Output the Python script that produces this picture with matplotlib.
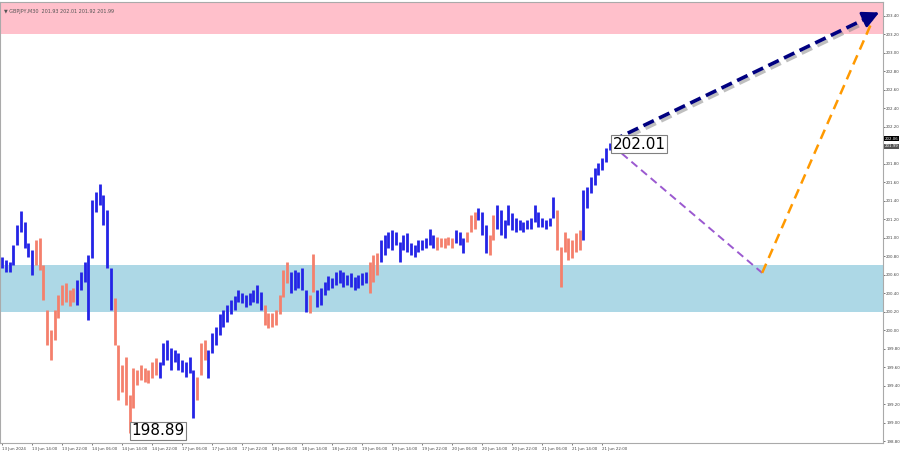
import numpy as np
import matplotlib
matplotlib.use("Agg")
import matplotlib.pyplot as plt
import matplotlib.patheffects as pe

# Barras horárias: máximas e mínimas (GBPJPY)
highs = [200.79, 200.76, 200.74, 200.92, 201.14, 201.29, 201.17, 200.94, 200.87, 200.98,
         201.00, 200.70, 200.22, 200.00, 200.22, 200.38, 200.49, 200.51, 200.44, 200.46,
         200.54, 200.63, 200.74, 200.81, 201.41, 201.49, 201.58, 201.46, 201.30, 200.67,
         200.35, 199.84, 199.62, 199.71, 199.30, 199.59, 199.57, 199.62, 199.59, 199.57,
         199.66, 199.70, 199.66, 199.86, 199.89, 199.81, 199.79, 199.75, 199.68, 199.66,
         199.71, 199.57, 199.49, 199.86, 199.89, 199.79, 199.97, 200.04, 200.17, 200.22,
         200.27, 200.33, 200.37, 200.44, 200.40, 200.38, 200.40, 200.44, 200.49, 200.41,
         200.27, 200.19, 200.19, 200.22, 200.38, 200.65, 200.74, 200.63, 200.65, 200.63,
         200.67, 200.44, 200.38, 200.82, 200.44, 200.46, 200.52, 200.59, 200.56, 200.63,
         200.65, 200.63, 200.60, 200.62, 200.58, 200.60, 200.62, 200.63, 200.74, 200.81,
         200.83, 200.98, 201.03, 201.06, 201.08, 201.06, 200.95, 201.03, 201.05, 200.94,
         200.92, 200.98, 200.98, 201.00, 201.10, 201.03, 201.01, 201.00, 201.00, 201.01,
         201.00, 201.08, 201.06, 201.00, 201.06, 201.25, 201.28, 201.32, 201.28, 201.14,
         201.03, 201.25, 201.35, 201.30, 201.19, 201.35, 201.27, 201.21, 201.19, 201.17,
         201.19, 201.21, 201.35, 201.28, 201.21, 201.19, 201.21, 201.44, 201.30, 200.90,
         201.06, 201.00, 200.98, 201.05, 201.08, 201.52, 201.55, 201.66, 201.75, 201.81,
         201.86, 201.97, 202.02]
lows = [200.67, 200.63, 200.63, 200.70, 200.92, 201.06, 200.89, 200.79, 200.60, 200.70,
        200.65, 200.33, 199.84, 199.68, 199.89, 200.13, 200.27, 200.31, 200.26, 200.31,
        200.27, 200.44, 200.52, 200.11, 200.78, 201.28, 201.35, 201.14, 200.67, 200.22,
        199.84, 199.25, 199.33, 199.19, 198.89, 199.16, 199.41, 199.46, 199.44, 199.43,
        199.48, 199.52, 199.48, 199.62, 199.68, 199.57, 199.66, 199.57, 199.55, 199.49,
        199.54, 199.05, 199.25, 199.52, 199.68, 199.48, 199.75, 199.84, 199.95, 200.04,
        200.09, 200.17, 200.22, 200.31, 200.29, 200.25, 200.27, 200.31, 200.29, 200.22,
        200.06, 200.02, 200.04, 200.06, 200.17, 200.36, 200.51, 200.40, 200.44, 200.46,
        200.44, 200.20, 200.19, 200.41, 200.25, 200.27, 200.38, 200.44, 200.46, 200.49,
        200.51, 200.47, 200.49, 200.47, 200.44, 200.46, 200.49, 200.51, 200.40, 200.52,
        200.60, 200.74, 200.81, 200.89, 200.87, 200.92, 200.74, 200.87, 200.85, 200.81,
        200.79, 200.85, 200.87, 200.89, 200.92, 200.89, 200.87, 200.90, 200.89, 200.92,
        200.89, 200.94, 200.92, 200.84, 200.95, 201.06, 201.10, 201.19, 201.03, 200.84,
        200.81, 200.98, 201.10, 201.03, 201.00, 201.14, 201.08, 201.06, 201.08, 201.06,
        201.10, 201.10, 201.17, 201.12, 201.12, 201.10, 201.13, 201.21, 200.87, 200.47,
        200.85, 200.76, 200.78, 200.85, 200.87, 200.98, 201.32, 201.48, 201.57, 201.68,
        201.73, 201.82, 201.95]

# Cores por sequência (quantidade de barras, direção da onda)
color_runs = [(9, "up"), (11, "down"), (10, "up"), (12, "down"), (10, "up"), (3, "down"),
              (15, "up"), (7, "down"), (5, "up"), (2, "down"), (14, "up"), (3, "down"),
              (15, "up"), (5, "down"), (3, "up"), (3, "down"), (3, "up"), (2, "down"),
              (16, "up"), (7, "down"), (8, "up")]

x_labels = ["13 Jun 2024", "13 Jun 14:00", "13 Jun 22:00", "14 Jun 06:00", "14 Jun 14:00",
            "14 Jun 22:00", "17 Jun 06:00", "17 Jun 14:00", "17 Jun 22:00", "18 Jun 06:00",
            "18 Jun 14:00", "18 Jun 22:00", "19 Jun 06:00", "19 Jun 14:00", "19 Jun 22:00",
            "20 Jun 06:00", "20 Jun 14:00", "20 Jun 22:00", "21 Jun 06:00", "21 Jun 14:00",
            "21 Jun 22:00"]

# Zonas e projeção das ondas
resistance_zone = (203.20, 203.60)
support_zone = (200.20, 200.70)
forecast_main = [(162.7, 202.05), (234.6, 203.45)]
forecast_alt = [(162.7, 202.00), (202.7, 200.62), (231.6, 203.30)]
last_price = 202.01
min_price = 198.89

up_color = "#2424e6"
down_color = "#f4806c"

colors = []
for n, d in color_runs:
    colors += [up_color if d == "up" else down_color] * n

fig = plt.figure(figsize=(9, 4.55), dpi=100)
ax = fig.add_axes([0.0, 0.0264, 0.981, 0.9692])

ax.set_xlim(-0.55, 234.9)
ax.set_ylim(198.78, 203.55)

# Zonas
ax.axhspan(*resistance_zone, color="#ffc0cb", lw=0, zorder=0)
ax.axhspan(*support_zone, color="#add8e6", lw=0, zorder=0)

# Barras de preço
idx = np.arange(len(highs))
ax.vlines(idx, lows, highs, colors=colors, lw=2.0, zorder=2)

# Projeção principal (seta azul escura com sombra)
mx, my = zip(*forecast_main)
ax.plot(mx[:1] + (mx[1] - 3,), my[:1] + (my[1] - 0.055,), color="#000080", lw=2.6,
        ls=(0, (3.2, 1.6)), zorder=4,
        path_effects=[pe.SimpleLineShadow(offset=(1.5, -2), shadow_color="gray", alpha=0.5),
                      pe.Normal()])
ax.annotate("", xy=forecast_main[1], xytext=(mx[1] - 4, my[1] - 0.075),
            arrowprops=dict(arrowstyle="-|>,head_length=1.0,head_width=0.5",
                            color="#000080", lw=2), zorder=5)

# Projeção alternativa
ax_x, ax_y = zip(*forecast_alt)
ax.plot(ax_x[:2], ax_y[:2], color="#9b59d0", lw=1.4, ls=(0, (4, 2.5)), zorder=3)
ax.plot(ax_x[1:], ax_y[1:], color="#ff9900", lw=1.8, ls=(0, (4, 2.5)), zorder=3)

# Rótulos de preço
ax.text(162.8, last_price, f"{last_price:.2f}", fontsize=11, ha="left", va="center",
        bbox=dict(facecolor="white", edgecolor="gray", boxstyle="square,pad=0.1", lw=0.8),
        zorder=6)
ax.text(34.4, min_price + 0.02, f"{min_price:.2f}", fontsize=11, ha="left", va="center",
        bbox=dict(facecolor="white", edgecolor="gray", boxstyle="square,pad=0.1", lw=0.8),
        zorder=6)

# Cabeçalho
ax.text(0.004, 0.985, "▼ GBPJPY,M30  201.93 202.01 201.92 201.99", transform=ax.transAxes,
        fontsize=3.5, color="#555555", ha="left", va="top")

# Eixo Y à direita
yticks = np.arange(198.80, 203.41, 0.20)
ax.yaxis.tick_right()
ax.set_yticks(yticks)
ax.set_yticklabels([f"{v:.2f}" for v in yticks])
ax.tick_params(axis="y", labelsize=2.9, length=1.5, width=0.5, pad=0.8, colors="#444444")

# Marcadores de preço atual no eixo
ax.text(1.002, 202.07, "202.06", transform=ax.get_yaxis_transform(), fontsize=2.8,
        color="white", va="center", ha="left",
        bbox=dict(facecolor="black", edgecolor="none", pad=0.4), clip_on=False)
ax.text(1.002, 201.99, "201.99", transform=ax.get_yaxis_transform(), fontsize=2.8,
        color="white", va="center", ha="left",
        bbox=dict(facecolor="#555555", edgecolor="none", pad=0.4), clip_on=False)

# Eixo X
ax.set_xticks(np.arange(0, len(x_labels) * 8, 8))
ax.set_xticklabels(x_labels, ha="left")
ax.tick_params(axis="x", labelsize=2.9, length=1.5, width=0.5, pad=1.5, colors="#444444")

for s in ax.spines.values():
    s.set_color("#aaaaaa")
    s.set_linewidth(0.8)

plt.savefig("out.png", dpi=100)
plt.close()
